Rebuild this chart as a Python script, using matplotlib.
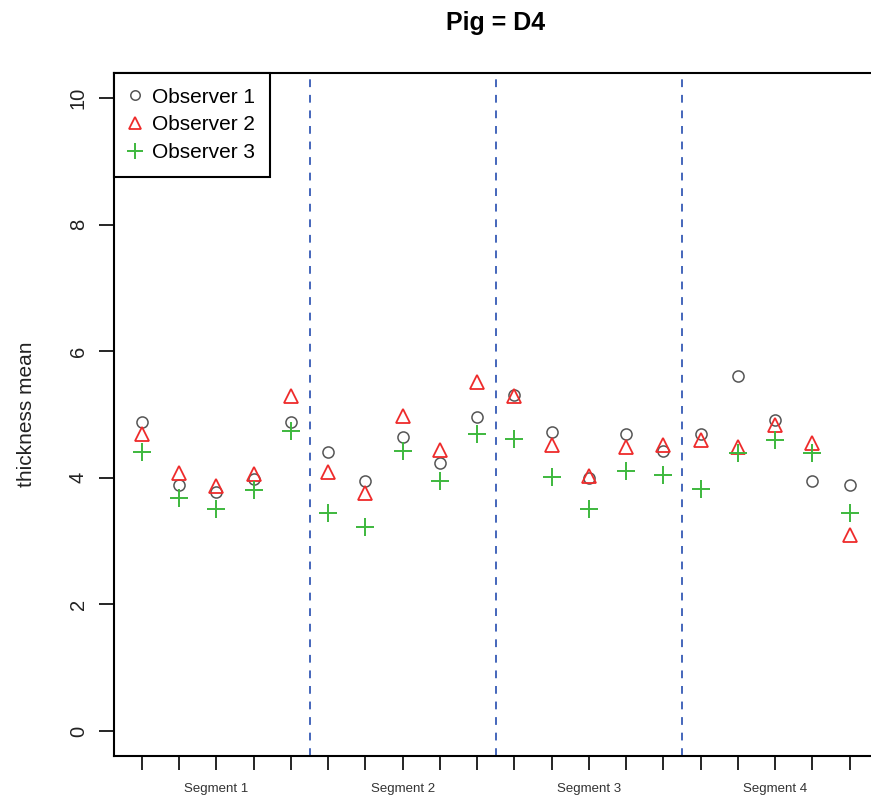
import matplotlib

matplotlib.use("Agg")

import matplotlib.pyplot as plt
import numpy as np

plt.rcParams["font.family"] = ["Liberation Sans", "DejaVu Sans"]

# Mean thickness per measurement position (5 positions x 4 segments)
positions = np.arange(1, 21)
observer1 = [4.88, 3.89, 3.78, 3.98, 4.88,
             4.40, 3.95, 4.65, 4.23, 4.96,
             5.31, 4.72, 3.99, 4.69, 4.42,
             4.69, 5.60, 4.91, 3.95, 3.89]
observer2 = [4.69, 4.07, 3.87, 4.06, 5.29,
             4.09, 3.76, 4.98, 4.44, 5.52,
             5.29, 4.52, 4.03, 4.48, 4.51,
             4.59, 4.48, 4.83, 4.55, 3.10]
observer3 = [4.41, 3.68, 3.51, 3.81, 4.74,
             3.45, 3.23, 4.42, 3.95, 4.69,
             4.62, 4.02, 3.51, 4.11, 4.04,
             3.82, 4.39, 4.59, 4.39, 3.45]
segment_labels = ["Segment 1", "Segment 2", "Segment 3", "Segment 4"]
segment_breaks = [5.5, 10.5, 15.5]

fig = plt.figure(figsize=(8.71, 7.96), dpi=100)
ax = fig.add_axes([0.1305, 0.0499, 0.8775, 0.8588])

ax.plot(positions, observer1, linestyle="none", marker="o", markersize=8,
        markerfacecolor="none", markeredgecolor="#555555", markeredgewidth=1.1,
        label="Observer 1")
ax.plot(positions, observer2, linestyle="none", marker="^", markersize=10,
        markerfacecolor="none", markeredgecolor="#EE2B2B", markeredgewidth=1.3,
        label="Observer 2")
ax.plot(positions, observer3, linestyle="none", marker="+", markersize=13,
        markeredgecolor="#3DB83D", markeredgewidth=1.4, label="Observer 3")

for xb in segment_breaks:
    ax.axvline(xb, color="#4466BB", linestyle=(0, (4, 4)), linewidth=1.4)

ax.set_xlim(0.24, 20.76)
ax.set_ylim(-0.4, 10.4)

ax.set_yticks([0, 2, 4, 6, 8, 10])
ax.set_yticklabels(["0", "2", "4", "6", "8", "10"], rotation=90, va="center",
                   fontsize=14.5, color="#222222")
ax.tick_params(axis="y", length=10.5, width=1.2, pad=8)

ax.set_xticks(positions)
seg_centers = {3: segment_labels[0], 8: segment_labels[1],
               13: segment_labels[2], 18: segment_labels[3]}
ax.set_xticklabels([seg_centers.get(p, "") for p in positions], fontsize=9.5,
                   color="#333333")
ax.tick_params(axis="x", length=10, width=1.2, pad=9)

for spine in ax.spines.values():
    spine.set_linewidth(1.5)

ax.set_ylabel("thickness mean", fontsize=15, labelpad=24, color="#222222")
ax.set_title("Pig = D4", fontsize=18, fontweight="bold", pad=31)

leg = ax.legend(loc="upper left", borderaxespad=0, fancybox=False,
                edgecolor="black", framealpha=1, fontsize=15,
                handlelength=0.6, handletextpad=0.5, labelspacing=0.42,
                borderpad=0.72, numpoints=1, markerscale=0.85)
leg.get_frame().set_linewidth(1.5)

fig.savefig("out.png", dpi=100)
